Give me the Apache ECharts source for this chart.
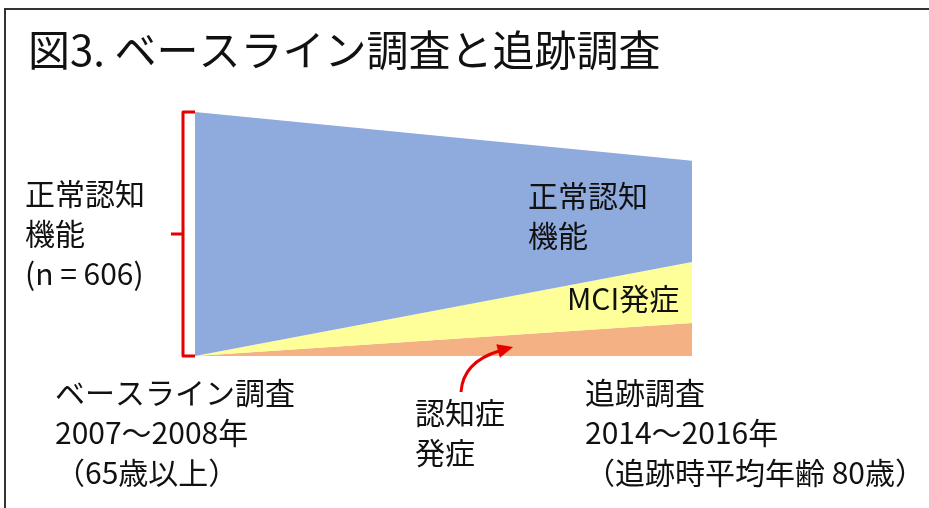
<!DOCTYPE html>
<html>
<head>
<meta charset="utf-8">
<script src="https://cdn.jsdelivr.net/npm/echarts@6/dist/echarts.min.js"></script>
<style>
html,body{margin:0;padding:0;background:#fff;}
#c{width:929px;height:508px;}
</style>
</head>
<body>
<div id="c"></div>
<script>
// --- data ---
const timePoints = ['ベースライン調査', '追跡調査'];  // baseline, follow-up
const dementia   = [0, 13.5];            // 認知症発症 (%)
const mci        = [0, 25];              // MCI発症 (%)
const normal     = [100, 41.5];          // 正常認知機能 (%)
const seriesNames = ['認知症発症', 'MCI発症', '正常認知機能'];
const titleText = '図3. ベースライン調査と追跡調査';
const leftLabel = '正常認知\n機能\n(n = 606)';
const normalLabel = '正常認知\n機能';
const mciLabel = 'MCI発症';
const baseLabel = 'ベースライン調査\n2007～2008年\n（65歳以上）';
const followLabel = '追跡調査\n2014～2016年\n（追跡時平均年齢 80歳）';
const dementiaLabel = '認知症\n発症';

const FONT = "'Noto Sans CJK JP', 'Noto Sans', sans-serif";
const chart = echarts.init(document.getElementById('c'), null, {renderer: 'canvas'});

const colors = ['#F4B183', '#FFFF99', '#8FAADC'];
const values = [dementia, mci, normal];

chart.setOption({
  animation: false,
  backgroundColor: '#fff',
  grid: {left: 195, right: 237, top: 112, bottom: 152},
  xAxis: {type: 'category', data: timePoints, boundaryGap: false, show: false},
  yAxis: {type: 'value', min: 0, max: 100, show: false},
  series: values.map((v, i) => ({
    name: seriesNames[i],
    type: 'line',
    stack: 'total',
    data: v,
    symbol: 'none',
    lineStyle: {width: 0},
    areaStyle: {color: colors[i], opacity: 1}
  }))
});

const pTop = chart.convertToPixel({gridIndex: 0}, [0, 100]);
const pBot = chart.convertToPixel({gridIndex: 0}, [0, 0]);
const pR = chart.convertToPixel({gridIndex: 0}, [1, 0]);
const bx = pTop[0] - 12, midY = (pTop[1] + pBot[1]) / 2;
const red = '#E60000';

function txt(text, x, y, size, lh) {
  return {
    type: 'text', x: x, y: y, silent: true, z: 100,
    style: {text: text, fill: '#111', font: size + 'px ' + FONT,
            lineHeight: lh || size, textAlign: 'left', textVerticalAlign: 'top',
            align: 'left', verticalAlign: 'top'}
  };
}

// arrow into dementia area
const tip = [pTop[0] + (pR[0] - pTop[0]) * 0.64, pBot[1] - 9];
const baseC = [tip[0] - 15, tip[1] + 4];
const L = Math.hypot(15, 4), ux = 15 / L, uy = -4 / L;
const px = -uy * 7, py = ux * 7;

chart.setOption({
  graphic: [
    {type: 'line', z: 100, shape: {x1: 5, y1: 9, x2: 5, y2: 508}, style: {stroke: '#333', lineWidth: 2}},
    {type: 'line', z: 100, shape: {x1: 4, y1: 9, x2: 929, y2: 9}, style: {stroke: '#333', lineWidth: 2}},
    txt(titleText, 28, 29, 42),
    txt(leftLabel, 25, 174, 30, 40),
    txt(normalLabel, 528, 176, 30, 40),
    txt(mciLabel, 567, 284, 30),
    txt(baseLabel, 55, 373, 30, 40),
    txt(dementiaLabel, 415, 393, 30, 40),
    txt(followLabel, 585, 373, 30, 40),
    // bracket
    {type: 'polyline', z: 100, shape: {points: [[pTop[0], pTop[1]], [bx, pTop[1]], [bx, pBot[1]], [pBot[0], pBot[1]]]},
     style: {stroke: red, lineWidth: 3, fill: null, lineJoin: 'round'}},
    {type: 'line', z: 100, shape: {x1: bx - 12, y1: midY, x2: bx, y2: midY}, style: {stroke: red, lineWidth: 3}},
    // arrow
    {type: 'bezierCurve', z: 100, shape: {x1: 461, y1: 392, cpx1: 463, cpy1: 362, x2: baseC[0] + 1, y2: baseC[1]},
     style: {stroke: red, lineWidth: 3, fill: null}},
    {type: 'polygon', z: 100, shape: {points: [tip, [baseC[0] + px, baseC[1] + py], [baseC[0] - px, baseC[1] - py]]},
     style: {fill: red}}
  ]
});
</script>
</body>
</html>
